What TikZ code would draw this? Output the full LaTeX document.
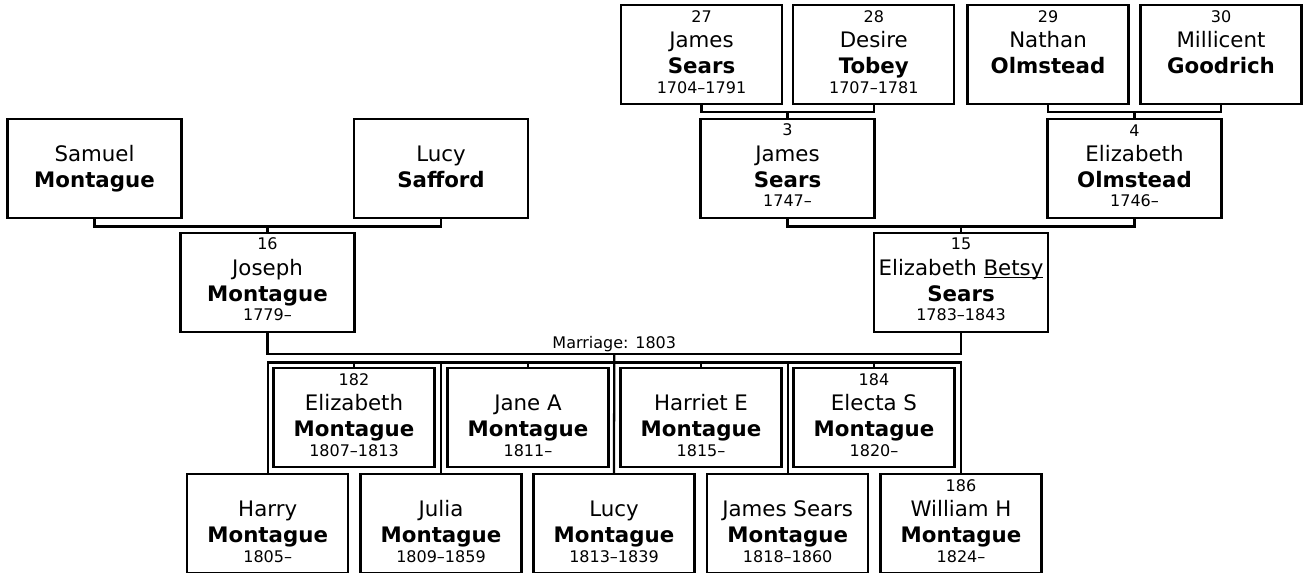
\documentclass[tikz,border=0pt]{standalone}
\usepackage{fontspec}
\setmainfont{DejaVu Sans}
\newcommand{\numfont}{\fontsize{12pt}{14pt}\selectfont}
\newcommand{\nick}[1]{\setbox0\hbox{#1}\rlap{\vrule width\wd0 height-1.4pt depth2.3pt}\box0}
\newcommand{\pers}[4]{\vbox{\offinterlineskip\halign{\hfil##\hfil\cr
  \vrule width0pt height13pt\relax{\numfont #1}\cr
  \vrule width0pt height18.75pt depth4.5pt\relax #2\cr
  \vrule width0pt height15pt depth4.5pt\relax\textbf{#3}\cr
  \vrule width0pt height10.3pt depth8.25pt\relax{\numfont #4}\cr}}}
\tikzset{
  person/.style={draw, minimum width=130.5pt, minimum height=74.25pt, inner sep=0pt,
    font=\fontsize{16pt}{19pt}\selectfont},
  narrow/.style={person, minimum width=120.75pt}
}
\begin{document}
\begin{tikzpicture}[x=0.75pt,y=-0.75pt,line width=1.7pt]
  \useasboundingbox (0,0) rectangle (1306,573);
  % great-grandparents
  \node[narrow] (p27) at (701.5,54.5) {\pers{27}{James}{Sears}{1704–1791}};
  \node[narrow] (p28) at (873.8,54.5) {\pers{28}{Desire}{Tobey}{1707–1781}};
  \node[narrow] (p29) at (1048,54.5) {\pers{29}{Nathan}{Olmstead}{}};
  \node[narrow] (p30) at (1221,54.5) {\pers{30}{Millicent}{Goodrich}{}};
  % grandparents
  \node[person] (samuel) at (94.5,168.3) {\pers{}{Samuel}{Montague}{}};
  \node[person] (lucyS) at (441,168.3) {\pers{}{Lucy}{Safford}{}};
  \node[person] (p3) at (787.5,168.3) {\pers{3}{James}{Sears}{1747–}};
  \node[person] (p4) at (1134.5,168.3) {\pers{4}{Elizabeth}{Olmstead}{1746–}};
  % the couple
  \node[person] (p16) at (267.5,282.3) {\pers{16}{Joseph}{Montague}{1779–}};
  \node[person] (p15) at (961,282.3) {\pers{15}{Elizabeth \nick{Betsy}}{Sears}{1783–1843}};
  % children
  \node[narrow] (e182) at (354,417.5) {\pers{182}{Elizabeth}{Montague}{1807–1813}};
  \node[narrow] (jane) at (528,417.5) {\pers{}{Jane A}{Montague}{1811–}};
  \node[narrow] (harriet) at (701,417.5) {\pers{}{Harriet E}{Montague}{1815–}};
  \node[narrow] (electa) at (874,417.5) {\pers{184}{Electa S}{Montague}{1820–}};
  \node[narrow] (harry) at (267.7,523.5) {\pers{}{Harry}{Montague}{1805–}};
  \node[narrow] (julia) at (441,523.5) {\pers{}{Julia}{Montague}{1809–1859}};
  \node[narrow] (lucy) at (614,523.5) {\pers{}{Lucy}{Montague}{1813–1839}};
  \node[narrow] (james) at (787.7,523.5) {\pers{}{James Sears}{Montague}{1818–1860}};
  \node[narrow] (william) at (961,523.5) {\pers{186}{William H}{Montague}{1824–}};

  \draw (p27.south) -- ++(0,7) -| (p28.south) (p3.north) -- ++(0,-7);
  \draw (p29.south) -- ++(0,7) -| (p30.south) (p4.north) -- ++(0,-7);
  \draw (samuel.south) -- ++(0,7.5) -| (lucyS.south) (p16.north) -- ++(0,-7);
  \draw (p3.south) -- ++(0,7.3) -| (p4.south) (p15.north) -- ++(0,-7);
  \draw (p16.south) -- ++(0,21) coordinate (m1)
    -- node[above, font=\numfont, inner sep=0.75pt] (marr) {Marriage: 1803} coordinate (mm)
    (m1 -| p15.south) -- (p15.south);
  \path (mm) ++(0,8.3) coordinate (bar);
  \draw (lucy.north) -- (mm);
  \draw (harry.north) |- (bar) -| (william.north);
  \foreach \k in {julia,james,e182,jane,harriet,electa}
    \draw (\k.north) -- (\k.north |- bar);
\end{tikzpicture}
\end{document}
